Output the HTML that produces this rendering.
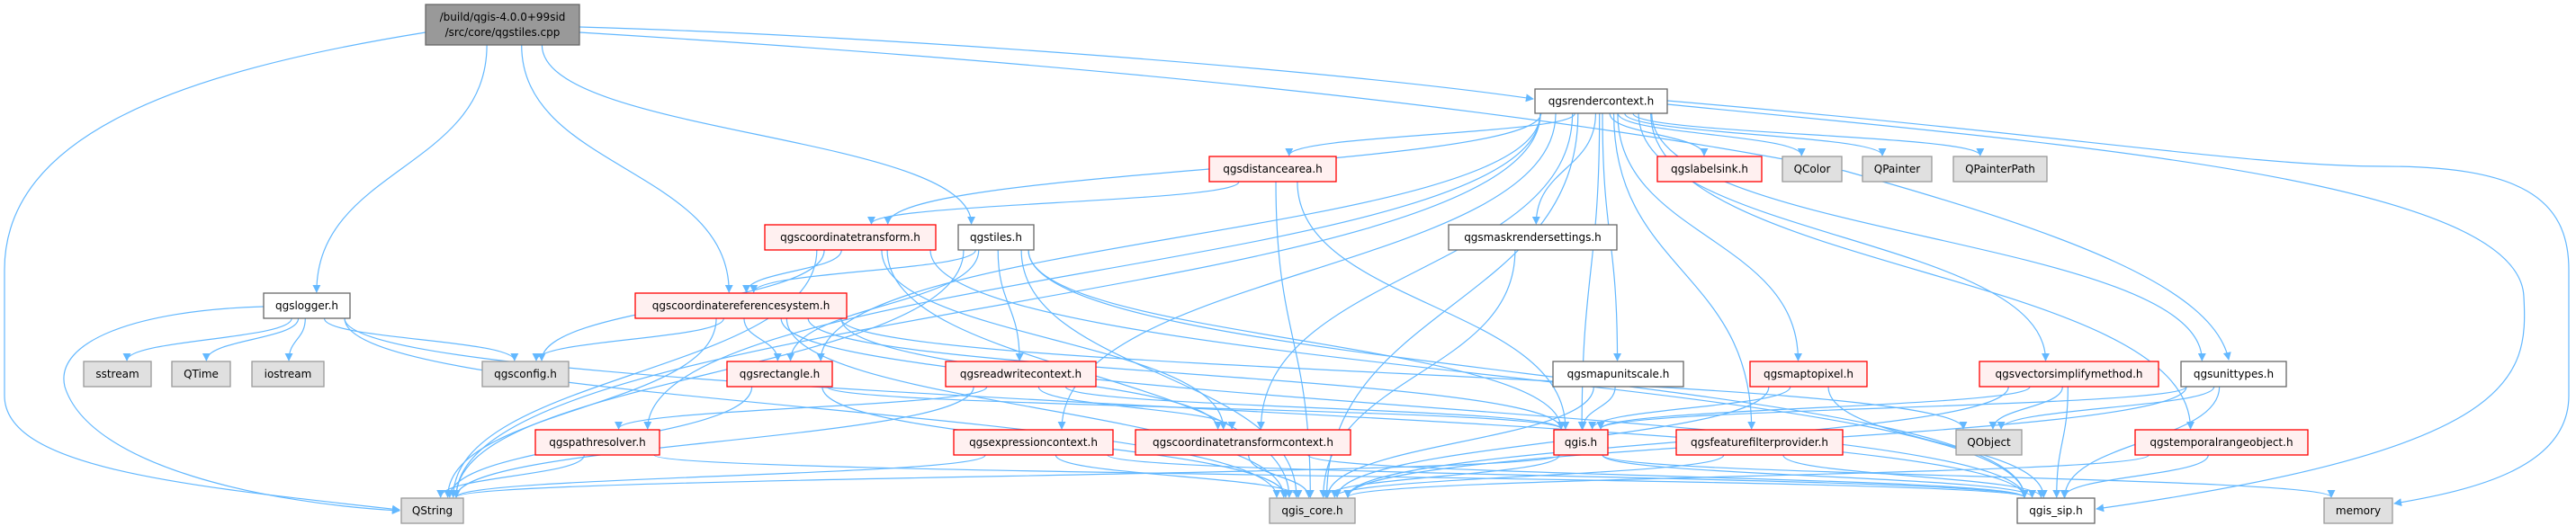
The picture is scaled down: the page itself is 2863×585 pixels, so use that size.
<!DOCTYPE html>
<html><head><meta charset="utf-8"><style>
html,body{margin:0;padding:0;background:#fff;}
svg{display:block;}
text{font-family:"DejaVu Sans","Liberation Sans",sans-serif;font-size:12px;fill:#000;}
</style></head><body>
<svg id="g" width="2863" height="585" viewBox="0 0 2863 585" xmlns="http://www.w3.org/2000/svg">
<defs><marker id="a" viewBox="0 0 10 10" refX="9" refY="5" markerWidth="9" markerHeight="9" orient="auto" markerUnits="userSpaceOnUse"><path d="M0,0 L10,5 L0,10 z" fill="#63b8ff"/></marker></defs>
<g id="edges"></g><g id="nodes"></g>
</svg>
<script>
var N={
root:[473,5,644,50,'k','/build/qgis-4.0.0+99sid|/src/core/qgstiles.cpp'],
logger:[293,326,389,354,'w','qgslogger.h'],
sstream:[93,402,168,430,'g','sstream'],
qtime:[191,402,256,430,'g','QTime'],
iostream:[280,402,360,430,'g','iostream'],
config:[536,402,632,430,'g','qgsconfig.h'],
crs:[706,326,941,354,'r','qgscoordinatereferencesystem.h'],
rect:[808,402,925,430,'r','qgsrectangle.h'],
path:[595,478,733,506,'r','qgspathresolver.h'],
qstring:[446,554,515,582,'g','QString'],
ct:[850,250,1040,278,'r','qgscoordinatetransform.h'],
tiles:[1065,250,1149,278,'w','qgstiles.h'],
rc:[1706,99,1853,126,'w','qgsrendercontext.h'],
da:[1344,174,1485,202,'r','qgsdistancearea.h'],
mask:[1610,250,1797,278,'w','qgsmaskrendersettings.h'],
rw:[1051,402,1218,430,'r','qgsreadwritecontext.h'],
mus:[1726,402,1871,430,'w','qgsmapunitscale.h'],
expr:[1060,478,1237,506,'r','qgsexpressioncontext.h'],
ctc:[1262,478,1501,506,'r','qgscoordinatetransformcontext.h'],
qgis:[1727,478,1787,506,'r','qgis.h'],
core:[1411,554,1506,582,'g','qgis_core.h'],
label:[1842,174,1958,202,'r','qgslabelsink.h'],
qcolor:[1981,174,2047,202,'g','QColor'],
qpainter:[2070,174,2147,202,'g','QPainter'],
qpp:[2171,174,2275,202,'g','QPainterPath'],
m2p:[1945,402,2075,430,'r','qgsmaptopixel.h'],
vsm:[2200,402,2399,430,'r','qgsvectorsimplifymethod.h'],
ut:[2424,402,2541,430,'w','qgsunittypes.h'],
ffp:[1863,478,2048,506,'r','qgsfeaturefilterprovider.h'],
qobject:[2174,478,2247,506,'g','QObject'],
tro:[2373,478,2565,506,'r','qgstemporalrangeobject.h'],
sip:[2242,554,2328,582,'w','qgis_sip.h'],
memory:[2583,554,2659,582,'g','memory']
};
var E={
root:['qstring','logger','crs','tiles','rc','ut'],
logger:['sstream','qtime','iostream','config','qstring','core','sip'],
rc:['da','mask','label','qcolor','qpainter','qpp','ct','rect','path','expr','ctc','core','mus','m2p','vsm','ut','ffp','tro','sip','memory','qstring','qgis'],
da:['ct','core','qgis'],
ct:['crs','config','qstring','core','ctc','sip'],
tiles:['crs','rect','rw','core','qstring','qgis','sip'],
crs:['config','rect','qstring','core','qgis','qobject','sip','ctc'],
rect:['qstring','core','qgis'],
rw:['path','qstring','ctc','qgis'],
path:['qstring','sip'],
expr:['qstring','core','sip'],
ctc:['core','sip'],
qgis:['core','qstring','sip','memory'],
mask:['core'],mus:['core','qgis'],
m2p:['core','qgis','sip'],
vsm:['core','qobject','sip','qgis'],
ut:['qgis','qobject','core','sip'],
ffp:['core','sip'],tro:['core','sip']
};
var special={
'root>qstring':'M473,36 C200,80 5,150 5,300 L5,440 C5,520 200,540 444,567',
'root>rc':'M644,30 C1000,40 1500,80 1704,110',
'root>ut':'M644,36 C1200,70 1700,120 2050,190 C2300,260 2460,320 2477,400',
'rc>memory':'M1853,112 C2300,150 2500,185 2650,185 C2800,185 2855,220 2855,300 L2855,440 C2855,520 2750,545 2661,560',
'rc>sip':'M1853,116 C2300,160 2800,200 2805,330 C2810,420 2800,500 2330,566',
'logger>qstring':'M293,341 C150,345 60,380 72,430 C100,520 300,560 444,568'
};
var ns='http://www.w3.org/2000/svg',eg=document.getElementById('edges'),ng=document.getElementById('nodes');
function el(t,a,p){var e=document.createElementNS(ns,t);for(var k in a)e.setAttribute(k,a[k]);p.appendChild(e);return e;}
for(var s in E){var S=N[s];var scx=(S[0]+S[2])/2;E[s].forEach(function(t){var T=N[t];var tcx=(T[0]+T[2])/2;var d=special[s+'>'+t];
if(!d){var sx=scx+(tcx-scx)*0.08;sx=Math.max(S[0]+6,Math.min(S[2]-6,sx));
var tx=tcx+(scx-tcx)*0.05;tx=Math.max(T[0]+8,Math.min(T[2]-8,tx));
var sy=S[3],ty=T[1]-1;var dy=(ty-sy)*0.5;
d='M'+sx+','+sy+' C'+sx+','+(sy+dy)+' '+tx+','+(ty-dy)+' '+tx+','+ty;}
el('path',{d:d,fill:'none',stroke:'#63b8ff','stroke-width':1.2,'marker-end':'url(#a)'},eg);});}
var st={k:['#999999','#666666'],w:['#ffffff','#666666'],g:['#e0e0e0','#999999'],r:['#fff0f0','#ff0000']};
for(var k in N){var n=N[k];el('rect',{x:n[0],y:n[1],width:n[2]-n[0],height:n[3]-n[1],fill:st[n[4]][0],stroke:st[n[4]][1],'stroke-width':1.3},ng);
var lines=n[5].split('|');var cy=(n[1]+n[3])/2;lines.forEach(function(l,i){var y=cy+4+(i-(lines.length-1)/2)*17;var t=el('text',{x:(n[0]+n[2])/2,y:y,'text-anchor':'middle'},ng);t.textContent=l;});}
</script>
</body></html>
